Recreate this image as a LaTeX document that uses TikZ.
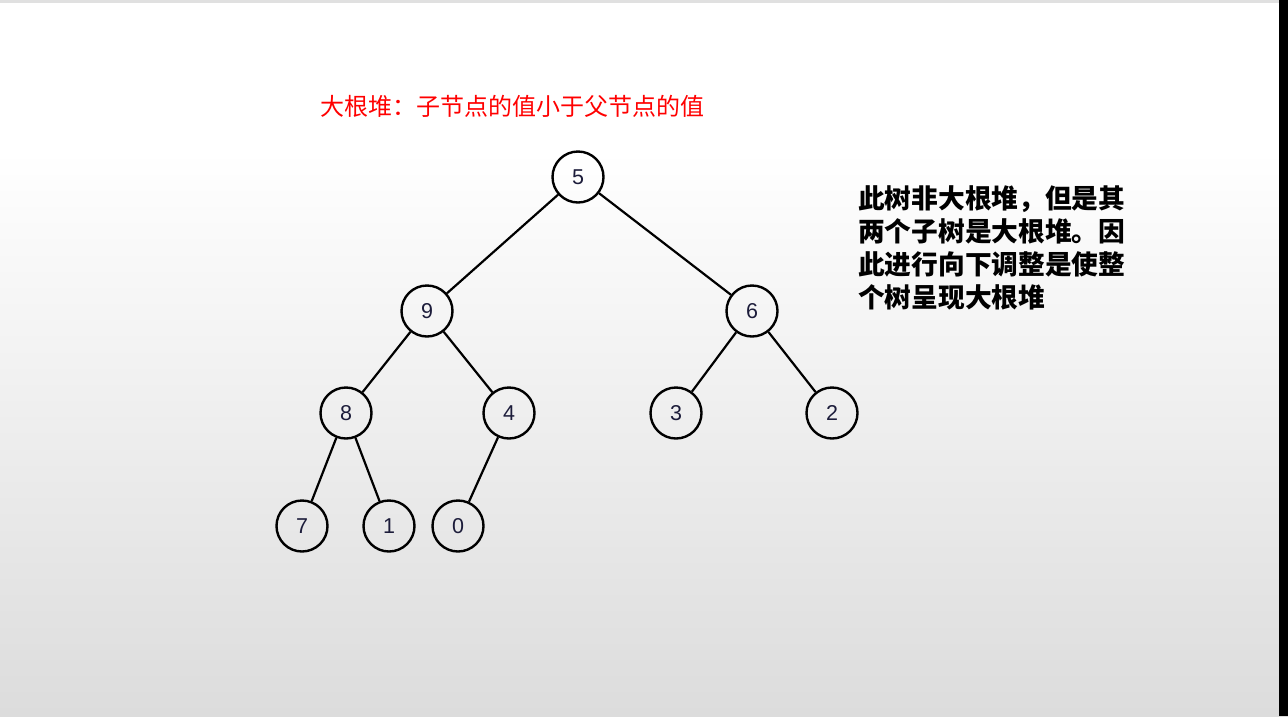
\documentclass[tikz,border=0pt]{standalone}
\usepackage{fontspec}
\setmainfont{Liberation Sans}
\newfontfamily\cjk{Noto Sans CJK SC}
\usetikzlibrary{positioning}
\definecolor{numblue}{RGB}{28,28,58}
\definecolor{bgbottom}{RGB}{220,220,220}
\definecolor{titlered}{RGB}{255,0,0}

\begin{document}
\begin{tikzpicture}[
    x=1pt,y=-1pt,
    heap/.style={circle,draw=black,line width=2.4pt,minimum size=51pt,inner sep=0pt,
                 font=\fontsize{21.5}{21.5}\selectfont,text=numblue},
    link/.style={line width=2.2pt,black},
    note/.style={font=\cjk\bfseries\fontsize{26.7}{33}\selectfont,align=left,anchor=north west,inner sep=0pt}
]
    % Slide background: white top fading to light gray, frame edges.
    \useasboundingbox (0,0) rectangle (1288,716);
    \fill[white] (0,0) rectangle (1288,150);
    \shade[top color=white,bottom color=bgbottom] (0,150) rectangle (1288,716);
    \fill[black!12] (0,0) rectangle (1279,3);
    \fill[black] (1279,0) rectangle (1288,716);

    \node[font=\cjk\fontsize{24}{24}\selectfont,text=titlered] (title) at (512,106)
        {大根堆：子节点的值小于父节点的值};

    % Heap nodes, level by level.
    \node[heap] (n5) at (578,177) {5};

    \node[heap] (n9) at (427,311) {9};
    \node[heap] (n6) at (752,311) {6};

    \node[heap] (n8) at (346,413) {8};
    \node[heap] (n4) at (509,413) {4};
    \node[heap] (n3) at (676,413) {3};
    \node[heap] (n2) at (832,413) {2};

    \node[heap] (n7) at (302,526) {7};
    \node[heap] (n1) at (389,526) {1};
    \node[heap] (n0) at (458,526) {0};

    \foreach \p/\c in {n5/n9,n5/n6,n9/n8,n9/n4,n6/n3,n6/n2,n8/n7,n8/n1,n4/n0}
        \draw[link] (\p) -- (\c);

    \node[note] (remark) at (858,185)
        {此树非大根堆，但是其\\两个子树是大根堆。因\\此进行向下调整是使整\\个树呈现大根堆};
\end{tikzpicture}
\end{document}
